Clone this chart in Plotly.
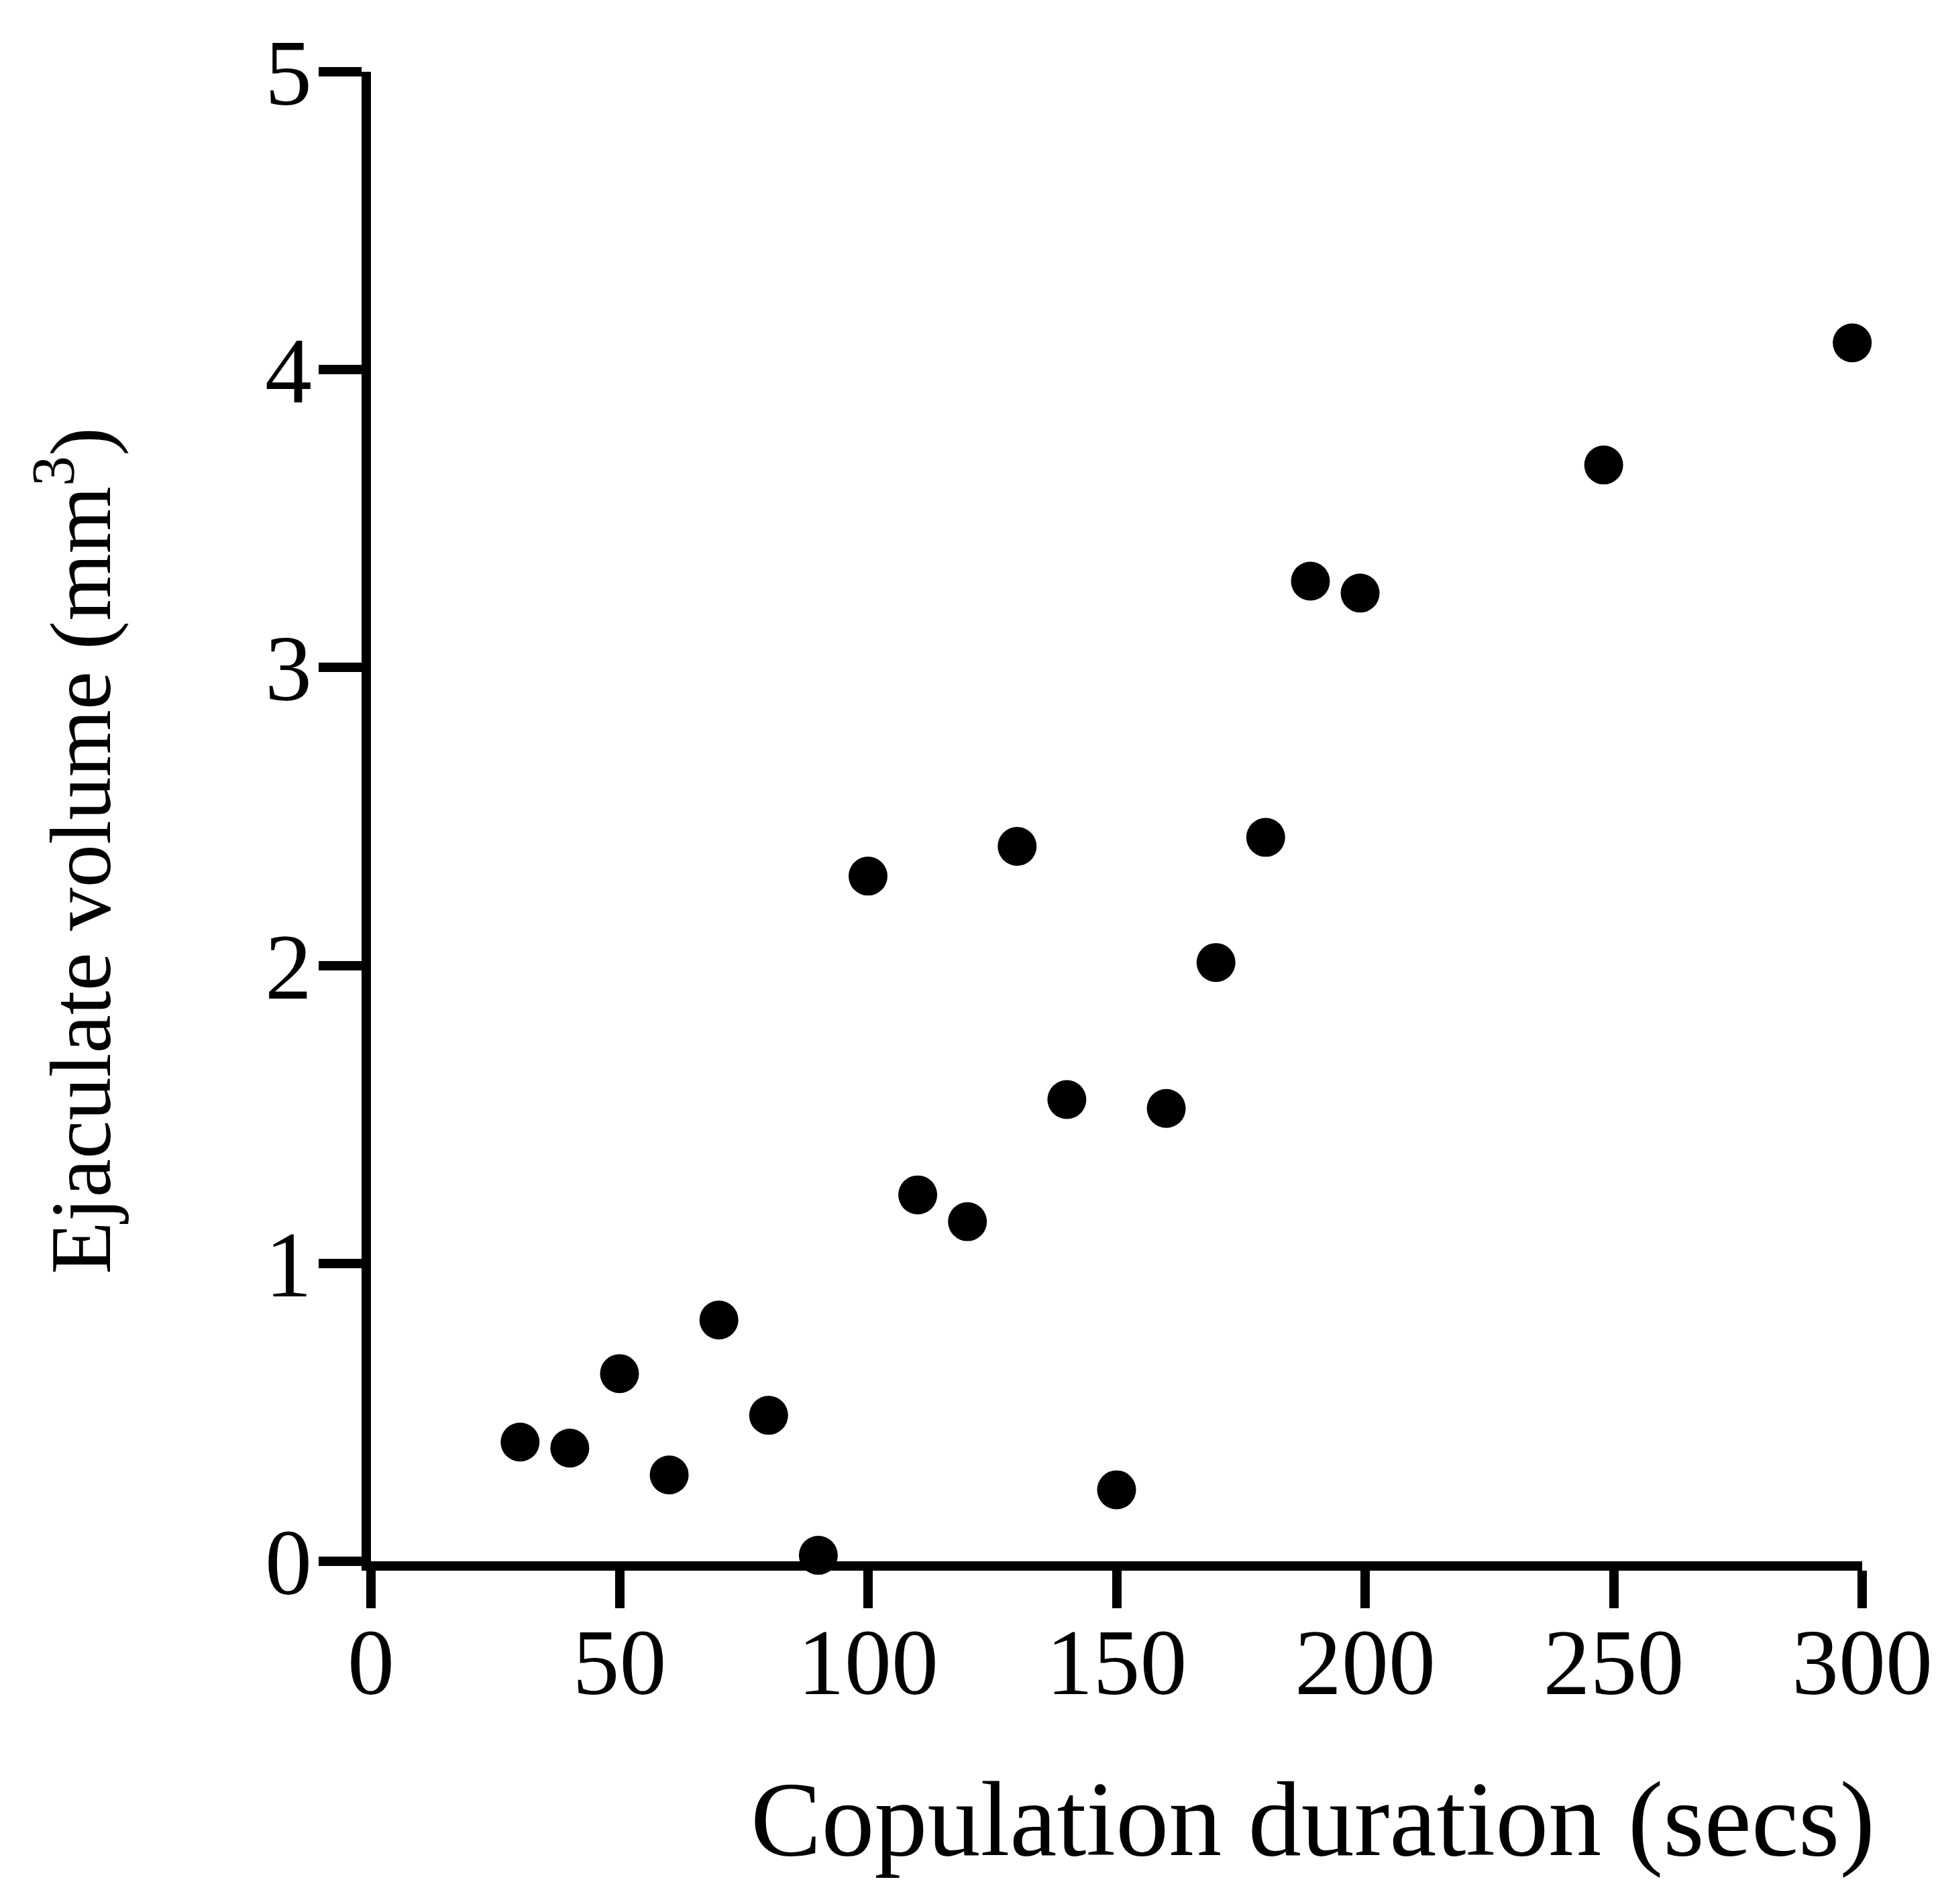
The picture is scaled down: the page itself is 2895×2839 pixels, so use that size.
import plotly.graph_objects as go

# Data
duration_secs = [30, 40, 50, 60, 70, 80, 90, 100, 110, 120, 130, 140, 150, 160, 170, 180, 189, 199, 248, 298]
ejaculate_volume = [0.40, 0.38, 0.63, 0.29, 0.81, 0.49, 0.02, 2.30, 1.23, 1.14, 2.40, 1.55, 0.24, 1.52, 2.01, 2.43, 3.29, 3.25, 3.68, 4.09]

x_ticks = [0, 50, 100, 150, 200, 250, 300]
y_ticks = [0, 1, 2, 3, 4, 5]

x_title = "Copulation duration (secs)"
y_title = "Ejaculate volume (mm<sup>3</sup>)"

FONT = "Liberation Serif, Times New Roman, serif"

fig = go.Figure()
fig.add_trace(go.Scatter(
    x=duration_secs, y=ejaculate_volume, mode="markers",
    marker=dict(size=58, color="black", line=dict(width=0)),
    cliponaxis=False, showlegend=False,
))

W, H = 2895, 2839
L, R, T, B = 553, 2776, 107, 2328

axis_common = dict(
    showgrid=False, zeroline=False, showline=True, linecolor="black", linewidth=14,
    ticks="outside", tickwidth=14, tickcolor="black",
    tickfont=dict(family=FONT, size=140, color="black"),
)

fig.update_layout(
    width=W, height=H,
    margin=dict(l=L, r=W - R, t=T, b=H - B, pad=0),
    paper_bgcolor="white", plot_bgcolor="white",
    xaxis=dict(range=[0, 300], tickvals=x_ticks, ticktext=[str(v) for v in x_ticks],
               ticklen=56, ticklabelstandoff=-40, **axis_common),
    yaxis=dict(range=[0, 5], tickvals=y_ticks, ticktext=[str(v) for v in y_ticks],
               ticklen=64, ticklabelstandoff=-18, **axis_common),
)

pw, ph = R - L, B - T
fig.add_annotation(
    text=x_title, xref="paper", yref="paper",
    x=(1957 - L) / pw, y=(B - 2712) / ph, xanchor="center", yanchor="middle",
    showarrow=False, font=dict(family=FONT, size=158, color="black"),
)
fig.add_annotation(
    text=y_title, xref="paper", yref="paper",
    x=(111 - L) / pw, y=(B - 1269) / ph, xanchor="center", yanchor="middle",
    textangle=-90, showarrow=False, font=dict(family=FONT, size=129, color="black"),
)

fig.write_html("out.html")
